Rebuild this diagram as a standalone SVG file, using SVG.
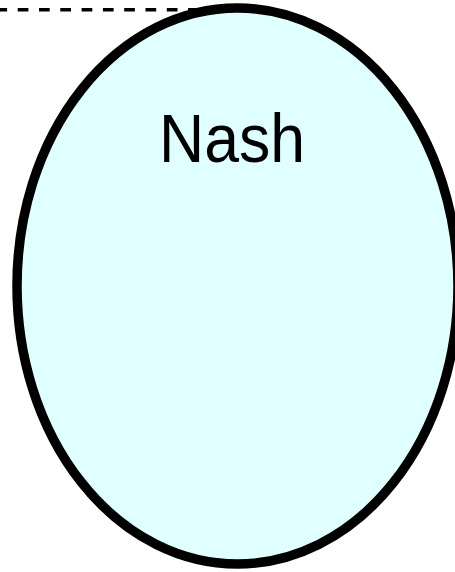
<svg xmlns="http://www.w3.org/2000/svg" width="455" height="572" viewBox="0 0 455 572">
<style>
.conn{stroke:#000;stroke-width:3.5;stroke-dasharray:10.7 10.6;stroke-dashoffset:3.6;fill:none}
.set{fill:#e0ffff;stroke:#000;stroke-width:9.5}
.lbl{font-family:"Liberation Sans",Arial,sans-serif;font-size:68px;fill:#000}
</style>
<g id="connectors">
<line class="conn" x1="0" y1="9.7" x2="215" y2="9.7"/>
</g>
<g id="nash">
<ellipse class="set" cx="237.5" cy="286" rx="220.5" ry="278"/>
<text class="lbl" x="232" y="162" text-anchor="middle" textLength="146" lengthAdjust="spacingAndGlyphs">Nash</text>
</g>
</svg>
